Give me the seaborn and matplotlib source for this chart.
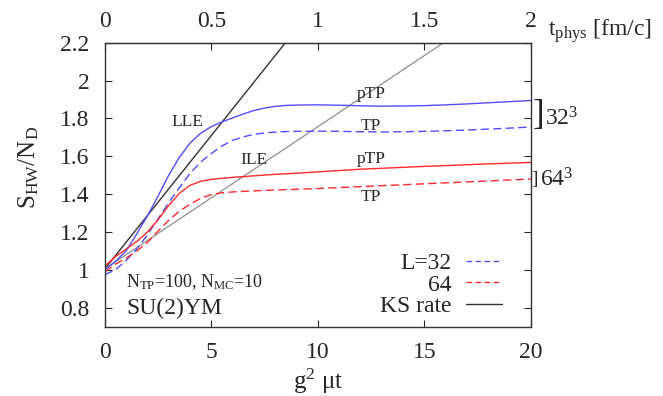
import pandas as pd
import matplotlib
matplotlib.use("Agg")
import matplotlib.pyplot as plt
import seaborn as sns
from matplotlib.lines import Line2D
from matplotlib.ticker import FormatStrFormatter

sns.set_style("ticks")
plt.rcParams['font.family'] = ['Liberation Serif', 'DejaVu Serif']
plt.rcParams['mathtext.fontset'] = 'custom'
plt.rcParams['mathtext.rm'] = 'Liberation Serif'
plt.rcParams['mathtext.it'] = 'Liberation Serif'

# g^2 mu t grid
t = [0, 0.5, 1, 1.5, 2, 2.5, 3, 3.5, 4, 4.5, 5, 5.5, 6, 6.5, 7, 7.5, 8, 8.5, 9,
     10, 11, 12, 13, 14, 15, 16, 17, 18, 19, 20]

# L=32
ptp_32 = [1.0, 1.045, 1.10, 1.19, 1.285, 1.39, 1.50, 1.595, 1.67, 1.722, 1.757,
          1.782, 1.803, 1.824, 1.842, 1.855, 1.864, 1.869, 1.871, 1.872, 1.870,
          1.867, 1.865, 1.866, 1.868, 1.872, 1.877, 1.883, 1.889, 1.895]
tp_32 = [0.975, 1.0, 1.05, 1.11, 1.185, 1.27, 1.355, 1.435, 1.51, 1.57, 1.615,
         1.655, 1.685, 1.703, 1.716, 1.724, 1.728, 1.731, 1.732, 1.733, 1.732,
         1.730, 1.729, 1.730, 1.732, 1.735, 1.739, 1.744, 1.749, 1.755]

# L=64
ptp_64 = [1.02, 1.07, 1.11, 1.15, 1.20, 1.265, 1.34, 1.405, 1.447, 1.468, 1.478,
          1.484, 1.489, 1.493, 1.497, 1.501, 1.505, 1.508, 1.511, 1.518, 1.525,
          1.532, 1.537, 1.542, 1.547, 1.551, 1.556, 1.560, 1.564, 1.568]
tp_64 = [0.99, 1.03, 1.062, 1.10, 1.145, 1.205, 1.262, 1.31, 1.347, 1.378, 1.398,
         1.407, 1.412, 1.415, 1.418, 1.42, 1.422, 1.424, 1.426, 1.43, 1.435,
         1.44, 1.445, 1.45, 1.455, 1.46, 1.465, 1.47, 1.475, 1.48]

# KS rate lines: S = s0 + rate * t
ks_start = 1.005
ks_lle_rate = 0.141
ks_ile_rate = 0.0752
ks_t = [0, 20]

fig = plt.figure(figsize=(6.63, 3.96), dpi=100)
ax = fig.add_axes([0.158, 0.175, 0.643, 0.717])

blue = '#4f4fff'
red = '#ff2a2a'
dash = (0, (6, 3))

sns.lineplot(x=ks_t, y=[ks_start + ks_lle_rate * v for v in ks_t], color='#333333', lw=1, ax=ax)
sns.lineplot(x=ks_t, y=[ks_start + ks_ile_rate * v for v in ks_t], color='#999999', lw=1, ax=ax)
sns.lineplot(x=t, y=ptp_32, color=blue, lw=1, ax=ax)
sns.lineplot(x=t, y=tp_32, color=blue, lw=1, ls=dash, ax=ax)
sns.lineplot(x=t, y=ptp_64, color=red, lw=1, ax=ax)
sns.lineplot(x=t, y=tp_64, color=red, lw=1, ls=dash, ax=ax)

ax.set_xlim(0, 20)
ax.set_ylim(0.7, 2.2)
ax.set_xticks([0, 5, 10, 15, 20])
ax.set_yticks([0.8, 1, 1.2, 1.4, 1.6, 1.8, 2, 2.2])
ax.yaxis.set_major_formatter(FormatStrFormatter('%g'))
ax.tick_params(axis='y', direction='in', right=True, labelsize=17, length=5, pad=11)
ax.tick_params(axis='x', direction='in', labelsize=17, length=5, pad=11)
for s in ax.spines.values():
    s.set_linewidth(1)
    s.set_color('#333333')

sec = ax.secondary_xaxis('top', functions=(lambda x: x / 10, lambda x: x * 10))
sec.set_xticks([0, 0.5, 1, 1.5, 2])
sec.xaxis.set_major_formatter(FormatStrFormatter('%g'))
sec.tick_params(direction='in', labelsize=17, length=5, pad=8)
sec.spines['top'].set_color('#333333')

ax.set_xlabel(r'g$^2$ μt', fontsize=18)
ax.xaxis.set_label_coords(0.5, -0.14)
ax.set_ylabel(r'$\mathrm{S_{HW}/N_D}$', fontsize=18)
ax.yaxis.set_label_coords(-0.15, 0.56)
fig.text(0.826, 0.922, r'$\mathrm{t_{phys}}$ [fm/c]', fontsize=17, ha='left', va='center')

# curve annotations
ann = dict(fontsize=12.5, ha='center', va='baseline')
ax.text(3.88, 1.758, 'LLE', **ann)
ax.text(7.0, 1.56, 'ILE', **ann)
ax.text(12.5, 1.907, 'pTP', **ann)
ax.text(12.5, 1.741, 'TP', **ann)
ax.text(12.5, 1.565, 'pTP', **ann)
ax.text(12.5, 1.363, 'TP', **ann)

# lattice size brackets
yt = ax.get_yaxis_transform()
ax.text(1.004, 1.815, ']', transform=yt, fontsize=25, ha='left', va='center')
ax.text(1.032, 1.80, r'32$^3$', transform=yt, fontsize=17, ha='left', va='center')
ax.text(1.0, 1.48, ']', transform=yt, fontsize=14, ha='left', va='center')
ax.text(1.02, 1.477, r'64$^3$', transform=yt, fontsize=17, ha='left', va='center')

ax.text(1.0, 0.907, r'$\mathrm{N_{TP}}$=100, $\mathrm{N_{MC}}$=10', fontsize=13,
        ha='left', va='baseline')
ax.text(1.0, 0.767, 'SU(2)YM', fontsize=17, ha='left', va='baseline')

handles = [Line2D([], [], color=blue, lw=1, ls=(0, (4, 2.5))),
           Line2D([], [], color=red, lw=1, ls=(0, (4, 2.5))),
           Line2D([], [], color='#333333', lw=1)]
ax.legend(handles, ['L=32', '64', 'KS rate'], loc='lower right', frameon=False,
          markerfirst=False, fontsize=17, handlelength=1.55, handletextpad=0.6,
          labelspacing=0.0, borderaxespad=0, bbox_to_anchor=(0.955, 0.0))

fig.savefig('out.png', dpi=100)
